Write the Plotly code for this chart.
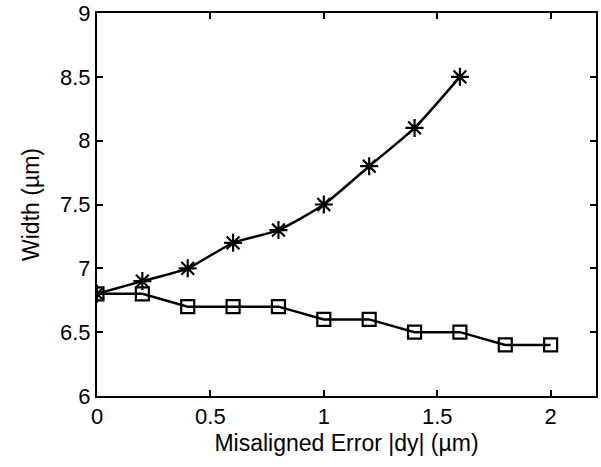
import plotly.graph_objects as go

# Width versus misalignment for the two layouts
dy_star = [0, 0.2, 0.4, 0.6, 0.8, 1.0, 1.2, 1.4, 1.6]
width_star = [6.8, 6.9, 7.0, 7.2, 7.3, 7.5, 7.8, 8.1, 8.5]

dy_square = [0, 0.2, 0.4, 0.6, 0.8, 1.0, 1.2, 1.4, 1.6, 1.8, 2.0]
width_square = [6.8, 6.8, 6.7, 6.7, 6.7, 6.6, 6.6, 6.5, 6.5, 6.4, 6.4]

x_ticks = [0, 0.5, 1, 1.5, 2]
y_ticks = [6, 6.5, 7, 7.5, 8, 8.5, 9]

FONT = "Liberation Sans, Arial"

fig = go.Figure()
fig.add_trace(go.Scatter(
    x=dy_star, y=width_star, mode="lines+markers",
    line=dict(color="black", width=2.5, shape="spline", smoothing=0.6),
    marker=dict(symbol="asterisk-open", size=15, color="black",
                line=dict(color="black", width=2.2)),
    showlegend=False,
))
fig.add_trace(go.Scatter(
    x=dy_square, y=width_square, mode="lines+markers",
    line=dict(color="black", width=2.5),
    marker=dict(symbol="square-open", size=13, color="black",
                line=dict(color="black", width=2.2)),
    showlegend=False,
))

axis_common = dict(
    showgrid=False, zeroline=False, showline=True, linecolor="black",
    linewidth=2, mirror="allticks", ticks="inside", ticklen=6,
    tickwidth=2, tickcolor="black", ticklabeloverflow="allow",
    automargin=False,
    tickfont=dict(family=FONT, size=22, color="black"),
)

fig.update_layout(
    width=601, height=467,
    margin=dict(l=97, r=5, t=13, b=71),
    paper_bgcolor="white", plot_bgcolor="white",
    xaxis=dict(range=[0, 2.2], tickvals=x_ticks,
               ticktext=[str(v) for v in x_ticks],
               title=dict(text="Misaligned Error |dy| (µm)", standoff=6,
                          font=dict(family=FONT, size=23, color="black")),
               **axis_common),
    yaxis=dict(range=[6, 9], tickvals=y_ticks,
               ticktext=[f"{v:g}" for v in y_ticks],
               title=dict(text="Width (µm)", standoff=14,
                          font=dict(family=FONT, size=23, color="black")),
               **axis_common),
)

fig.write_html("out.html")
